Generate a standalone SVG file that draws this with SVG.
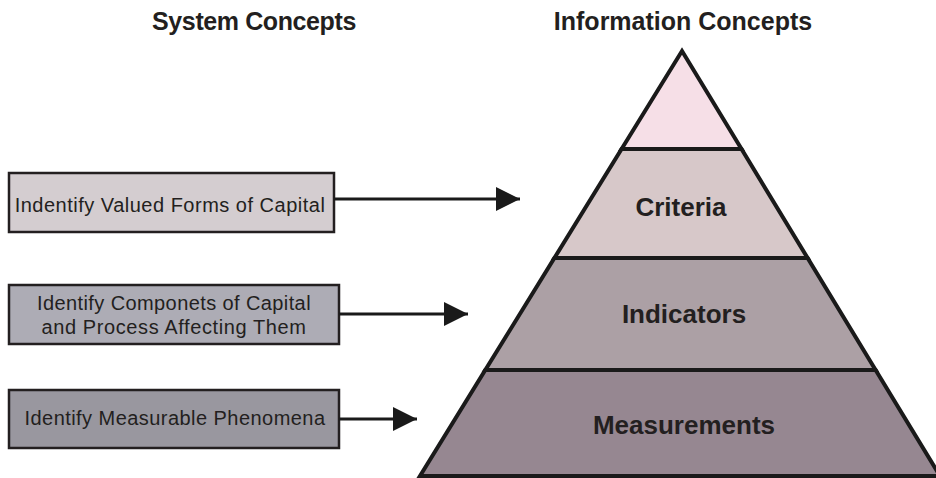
<svg xmlns="http://www.w3.org/2000/svg" width="936" height="478" viewBox="0 0 936 478">
<defs>
<style>
.title{font-family:"Liberation Sans",Arial,sans-serif;font-weight:bold;font-size:25px;fill:#231f20;text-anchor:middle}
.lvl{font-family:"Liberation Sans",Arial,sans-serif;font-weight:bold;font-size:26px;fill:#231f20;text-anchor:middle}
.box{stroke:#231f20;stroke-width:2.5}
.btxt{font-family:"Liberation Sans",Arial,sans-serif;font-size:20px;fill:#231f20;text-anchor:middle}
.layer{stroke:#1a1a1a;stroke-width:4;stroke-linejoin:miter}
.conn{stroke:#1a1a1a;stroke-width:3;fill:none}
</style>
<marker id="ah" viewBox="0 0 24 24" refX="24" refY="12" markerUnits="userSpaceOnUse" markerWidth="24" markerHeight="24" orient="auto">
<path d="M0,0 L24,12 L0,24 Z" fill="#1a1a1a"/>
</marker>
</defs>
<rect width="936" height="478" fill="#ffffff"/>
<g id="titles">
<text class="title" x="254" y="30" letter-spacing="-0.4">System Concepts</text>
<text class="title" x="683" y="30">Information Concepts</text>
</g>
<g id="pyramid">
<g id="level-top">
<polygon class="layer" points="682,51 741.5,149 621.6,149" fill="#f6dfe7"/>
</g>
<g id="level-criteria">
<polygon class="layer" points="621.6,149 741.5,149 807.6,258 554.4,258" fill="#d7c8c9"/>
<text class="lvl" x="681" y="216">Criteria</text>
</g>
<g id="level-indicators">
<polygon class="layer" points="554.4,258 807.6,258 875.6,370 485.3,370" fill="#aca0a5"/>
<text class="lvl" x="684" y="323">Indicators</text>
</g>
<g id="level-measurements">
<polygon class="layer" points="485.3,370 875.6,370 940,476 420,476" fill="#968791"/>
<text class="lvl" x="684" y="434">Measurements</text>
</g>
</g>
<g id="box-valued">
<rect class="box" x="9" y="173" width="325" height="59" fill="#d4cdd0"/>
<text class="btxt" x="170" y="212" letter-spacing="0.5">Indentify Valued Forms of Capital</text>
</g>
<g id="box-components">
<rect class="box" x="9" y="285" width="330" height="59" fill="#adacb5"/>
<text class="btxt" x="174" y="310" letter-spacing="0.4">Identify Componets of Capital</text>
<text class="btxt" x="174" y="334" letter-spacing="0.6">and Process Affecting Them</text>
</g>
<g id="box-measurable">
<rect class="box" x="9" y="390" width="330" height="58" fill="#99979f"/>
<text class="btxt" x="175" y="425" letter-spacing="0.45">Identify Measurable Phenomena</text>
</g>
<g id="connectors">
<line class="conn" x1="334" y1="199" x2="520" y2="199" marker-end="url(#ah)"/>
<line class="conn" x1="339" y1="314" x2="468" y2="314" marker-end="url(#ah)"/>
<line class="conn" x1="339" y1="419" x2="417" y2="419" marker-end="url(#ah)"/>
</g>
</svg>
